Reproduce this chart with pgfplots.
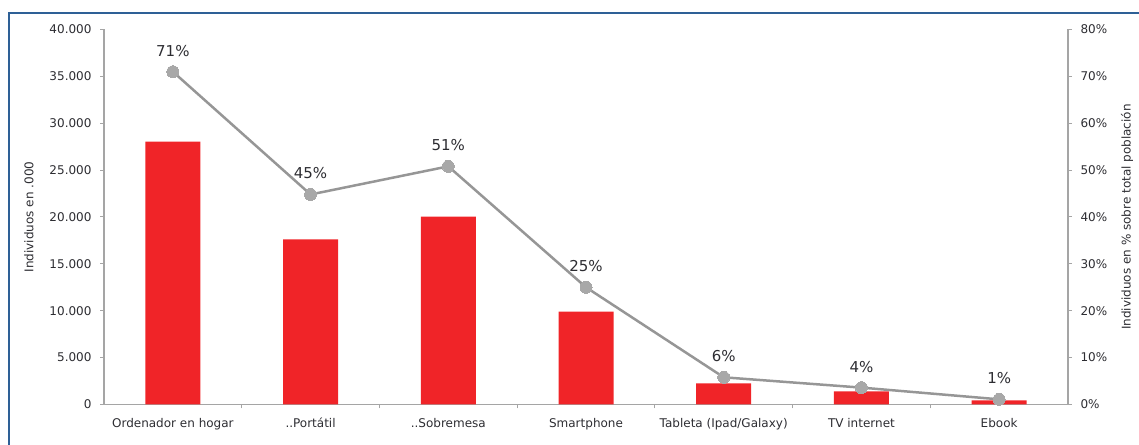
\documentclass[border=0pt]{standalone}
\usepackage{pgfplots}
\pgfplotsset{compat=1.18}
\usepackage{fontspec}
\setmainfont{DejaVu Sans}
\definecolor{barred}{RGB}{240,36,40}
\definecolor{linegray}{RGB}{150,150,150}
\definecolor{markgray}{RGB}{168,168,168}
\definecolor{axisgray}{RGB}{165,165,165}
\definecolor{txt}{RGB}{45,45,50}
\definecolor{framecol}{RGB}{46,96,150}
\newcommand{\fs}{\fontsize{12bp}{14bp}\selectfont}
\newcommand{\fl}{\fontsize{15bp}{17bp}\selectfont}
\begin{document}
\begin{tikzpicture}[x=1bp,y=1bp]
\path[use as bounding box] (0,0) rectangle (1139,445);
\draw[framecol, line width=2bp] (8.5,0) -- (8.5,431.5) -- (1139,431.5);
\pgfplotsset{
  common/.style={
    at={(104bp,40.5bp)}, anchor=south west,
    scale only axis, width=964bp, height=375bp,
    xmin=-0.5, xmax=6.5,
    tick align=outside,
    major tick length=4bp, minor tick length=4bp,
    tick style={draw=axisgray, line width=1bp},
    axis line style={draw=axisgray, line width=1.2bp},
    tick label style={text=txt, font=\fs},
    /pgf/number format/assume math mode=true,
  }
}
\begin{axis}[common,
  ymin=0, ymax=40000,
  ytick={0,5000,...,40000},
  scaled y ticks=false,
  yticklabel style={xshift=-5bp, /pgf/number format/.cd, 1000 sep={.}, assume math mode=true},
  axis x line*=bottom, axis y line*=left,
  xtick={0,...,6},
  xticklabels={Ordenador en hogar,..Portátil,..Sobremesa,Smartphone,Tableta (Ipad/Galaxy),TV internet,Ebook},
  major x tick style={draw=none},
  minor xtick={0.5,1.5,...,5.5},
  xticklabel style={yshift=-6bp},
  ylabel={Individuos en .000},
  every axis y label/.style={at={(axis description cs:0,0.5)}, anchor=center, xshift=-75bp, rotate=90, text=txt, font=\fs},
]
\addplot[ybar, bar width=55bp, fill=barred, draw=none] coordinates {
(0,28050) (1,17600) (2,20050) (3,9900) (4,2250) (5,1400) (6,450)
};
\end{axis}
\begin{axis}[common,
  ymin=0, ymax=80,
  ytick={0,10,...,80},
  yticklabel={\pgfmathprintnumber{\tick}\%},
  yticklabel style={xshift=5bp},
  axis x line=none, axis y line*=right,
  ylabel={Individuos en \% sobre total población},
  every axis y label/.style={at={(axis description cs:1,0.5)}, anchor=center, xshift=59bp, rotate=90, text=txt, font=\fs},
]
\addplot[linegray, line width=2.5bp, mark=*, mark size=6bp,
  mark options={fill=markgray, draw=markgray, line width=0pt},
  nodes near coords, point meta=explicit symbolic,
  every node near coord/.style={anchor=south, yshift=12bp, text=txt, font=\fl}]
coordinates {
(0,71.0) [71\%]
(1,44.8) [45\%]
(2,50.8) [51\%]
(3,25.0) [25\%]
(4,5.8) [6\%]
(5,3.6) [4\%]
(6,1.1) [1\%]
};
\end{axis}
\end{tikzpicture}
\end{document}
